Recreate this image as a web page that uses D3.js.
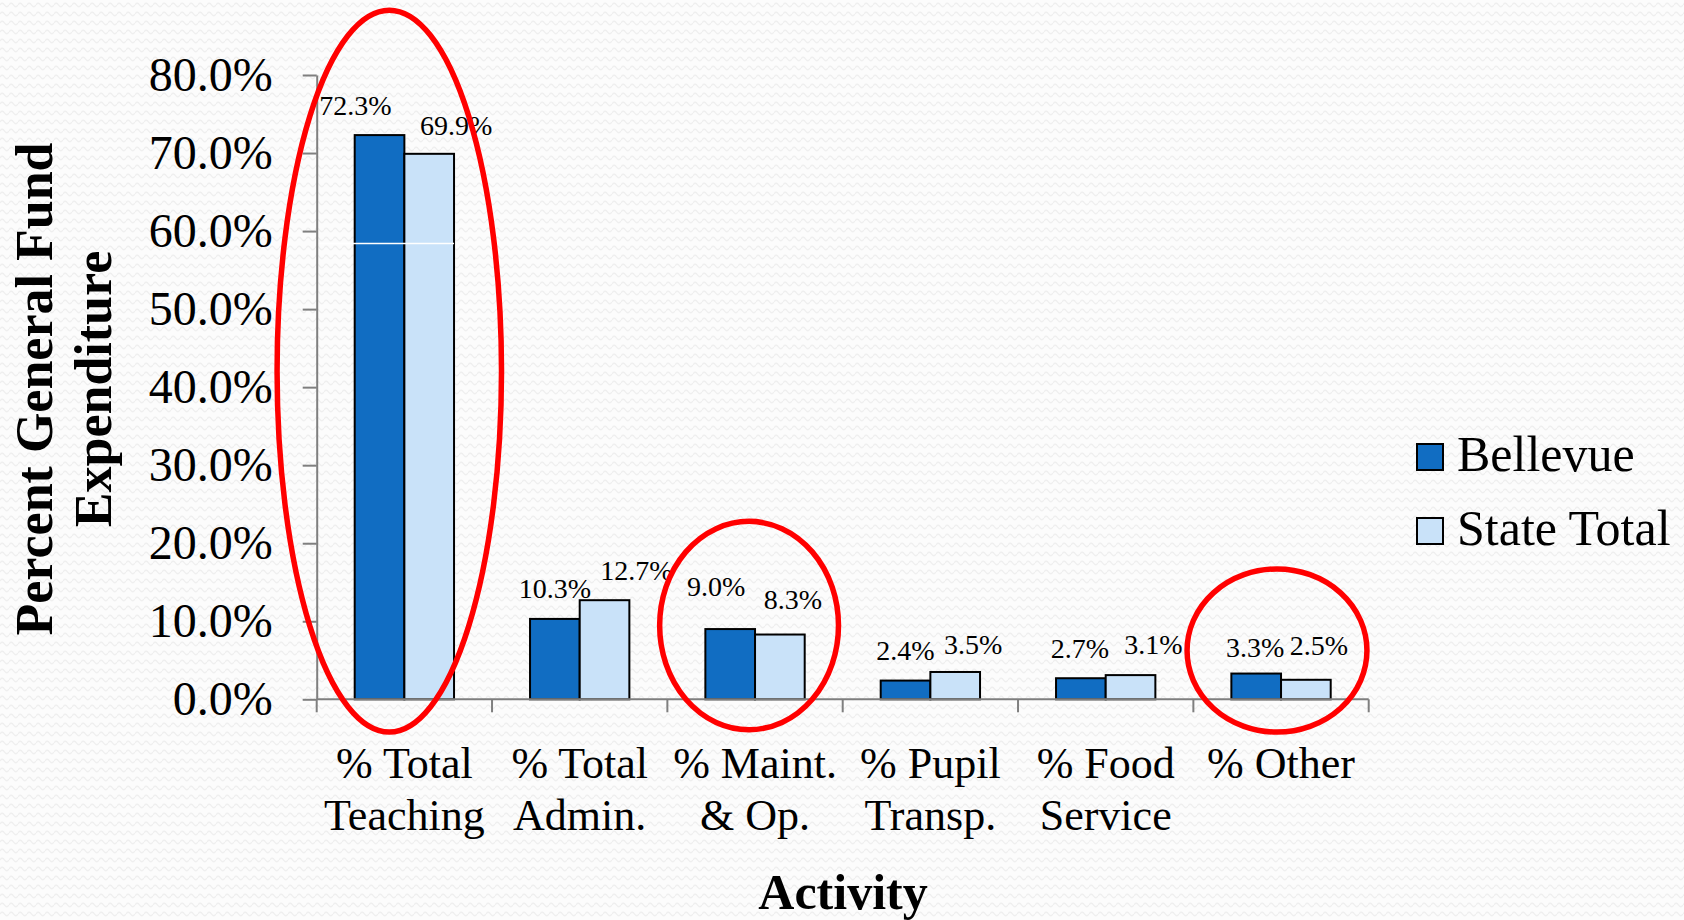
<!DOCTYPE html>
<html>
<head>
<meta charset="utf-8">
<title>Percent General Fund Expenditure by Activity</title>
<script src="https://cdn.jsdelivr.net/npm/d3@7"></script>
<style>
    html, body { margin: 0; padding: 0; background: #fff; }
    svg { display: block; font-family: 'Liberation Serif', 'Times New Roman', serif; }
</style>
</head>
<body>
<svg id="chart" width="1684" height="920"></svg>
<script>
// chart data
const categories = [
    ['% Total', 'Teaching'],
    ['% Total', 'Admin.'],
    ['% Maint.', '& Op.'],
    ['% Pupil', 'Transp.'],
    ['% Food', 'Service'],
    ['% Other'],
];
const seriesNames = ['Bellevue', 'State Total'];
const bellevue = [72.3, 10.3, 9.0, 2.4, 2.7, 3.3];
const stateTotal = [69.9, 12.7, 8.3, 3.5, 3.1, 2.5];
const yTicks = [0, 10, 20, 30, 40, 50, 60, 70, 80];

// categories circled in red on the slide (index, top/bottom in % units, width as share of band, shift)
const circled = [
    { i: 0, top: 88.3, bottom: -4.2, rx: 0.64, shift: -0.086 },
    { i: 2, top: 22.8, bottom: -3.9, rx: 0.51, shift: -0.034 },
    { i: 5, top: 16.7, bottom: -4.2, rx: 0.513, shift: -0.023 },
];

// hand-placed label nudges (px) as on the original slide
const labelNudge = {
    'Bellevue': { dx: [-24, 0, -14, 0, -1, -1], gap: [20, 21, 33, 21, 20, 17] },
    'State Total': { dx: [27, 32, 13, 18, 23, 13], gap: [19, 20, 26, 18, 21, 25] },
};

const colors = { 'Bellevue': '#116dc2', 'State Total': '#c9e2f9' };

const margin = { top: 75, left: 316.7, right: 315.3, bottom: 220.7 };
const width = 1684;
const height = 920;

const svg = d3.select('#chart');

// faint wavy texture of the slide background
const defs = svg.append('defs');
const pat = defs.append('pattern')
    .attr('id', 'bg')
    .attr('width', 9)
    .attr('height', 9)
    .attr('patternUnits', 'userSpaceOnUse');
pat.append('rect').attr('width', 9).attr('height', 9).attr('fill', '#fcfcfc');
pat.append('path')
    .attr('d', 'M0,5 Q2.25,1.5 4.5,5 T9,5')
    .attr('fill', 'none')
    .attr('stroke', '#efefef')
    .attr('stroke-width', 1.3);
svg.append('rect').attr('width', width).attr('height', height).attr('fill', 'url(#bg)');

const x = d3.scaleBand()
    .domain(d3.range(categories.length))
    .range([margin.left, width - margin.right]);

const xInner = d3.scaleBand()
    .domain(seriesNames)
    .range([38, x.bandwidth() - 38]);

const y = d3.scaleLinear()
    .domain([0, 80])
    .range([height - margin.bottom, margin.top]);

const rows = categories.map((c, i) => ({
    i,
    values: [
        { key: 'Bellevue', value: bellevue[i] },
        { key: 'State Total', value: stateTotal[i] },
    ],
}));

// bars
const groups = svg.append('g')
    .selectAll('g')
    .data(rows)
    .join('g')
    .attr('transform', d => `translate(${x(d.i)},0)`);

groups.selectAll('rect')
    .data(d => d.values)
    .join('rect')
    .attr('x', d => xInner(d.key))
    .attr('y', d => y(d.value))
    .attr('width', xInner.bandwidth())
    .attr('height', d => y(0) - y(d.value))
    .attr('fill', d => colors[d.key])
    .attr('stroke', '#000')
    .attr('stroke-width', 2);

// thin white seam running across the first pair of bars in the source image
svg.append('line')
    .attr('x1', x(0) - 1)
    .attr('x2', x(0) + xInner('State Total') + xInner.bandwidth())
    .attr('y1', y(58.4))
    .attr('y2', y(58.4))
    .attr('stroke', '#fff')
    .attr('stroke-width', 1.5);

// data labels
groups.selectAll('text')
    .data(d => d.values.map(v => ({ ...v, i: d.i })))
    .join('text')
    .attr('x', d => xInner(d.key) + xInner.bandwidth() / 2 + labelNudge[d.key].dx[d.i])
    .attr('y', d => y(d.value) - labelNudge[d.key].gap[d.i])
    .attr('text-anchor', 'middle')
    .attr('font-size', 28)
    .attr('fill', '#000')
    .text(d => d.value.toFixed(1) + '%');

// y axis
const yAxis = svg.append('g')
    .attr('transform', `translate(${margin.left},0)`)
    .call(d3.axisLeft(y)
        .tickValues(yTicks)
        .tickFormat(d => d.toFixed(1) + '%')
        .tickSize(14)
        .tickSizeOuter(0)
        .tickPadding(30));
yAxis.select('.domain').attr('stroke', '#7f7f7f').attr('stroke-width', 2);
yAxis.selectAll('.tick line').attr('stroke', '#7f7f7f').attr('stroke-width', 2);
yAxis.selectAll('.tick text')
    .attr('font-size', 48)
    .attr('font-family', 'Liberation Serif, serif')
    .attr('fill', '#000');

// x axis: ticks at band boundaries
const xAxis = svg.append('g');
xAxis.append('line')
    .attr('x1', x.range()[0])
    .attr('x2', x.range()[1])
    .attr('y1', y(0))
    .attr('y2', y(0))
    .attr('stroke', '#7f7f7f')
    .attr('stroke-width', 2);
xAxis.selectAll('.btick')
    .data(d3.range(categories.length + 1))
    .join('line')
    .attr('class', 'btick')
    .attr('x1', i => x.range()[0] + i * x.bandwidth())
    .attr('x2', i => x.range()[0] + i * x.bandwidth())
    .attr('y1', y(0))
    .attr('y2', y(0) + 13)
    .attr('stroke', '#7f7f7f')
    .attr('stroke-width', 2);

const catLabels = xAxis.selectAll('.cat')
    .data(rows)
    .join('text')
    .attr('class', 'cat')
    .attr('text-anchor', 'middle')
    .attr('font-size', 44)
    .attr('fill', '#000');
catLabels.selectAll('tspan')
    .data(d => categories[d.i].map(t => ({ t, i: d.i })))
    .join('tspan')
    .attr('x', d => x(d.i) + x.bandwidth() / 2)
    .attr('y', (d, k) => y(0) + 79 + k * 52)
    .text(d => d.t);

// axis titles
svg.append('text')
    .attr('transform', `translate(52,389) rotate(-90)`)
    .attr('text-anchor', 'middle')
    .attr('font-size', 52)
    .attr('font-weight', 'bold')
    .text('Percent General Fund');
svg.append('text')
    .attr('transform', `translate(111,389) rotate(-90)`)
    .attr('text-anchor', 'middle')
    .attr('font-size', 52)
    .attr('font-weight', 'bold')
    .text('Expenditure');
svg.append('text')
    .attr('x', 843)
    .attr('y', 909)
    .attr('text-anchor', 'middle')
    .attr('font-size', 50)
    .attr('font-weight', 'bold')
    .text('Activity');

// legend
const legend = svg.append('g')
    .attr('transform', 'translate(1417,444)')
    .selectAll('g')
    .data(seriesNames)
    .join('g')
    .attr('transform', (d, i) => `translate(0,${i * 74})`);
legend.append('rect')
    .attr('width', 26)
    .attr('height', 26)
    .attr('fill', d => colors[d])
    .attr('stroke', '#000')
    .attr('stroke-width', 2);
legend.append('text')
    .attr('x', 40)
    .attr('y', 27)
    .attr('font-size', 50)
    .text(d => d);

// red annotation ellipses
svg.append('g')
    .selectAll('ellipse')
    .data(circled)
    .join('ellipse')
    .attr('cx', d => x(d.i) + x.bandwidth() * (0.5 + d.shift))
    .attr('cy', d => (y(d.top) + y(d.bottom)) / 2)
    .attr('rx', d => x.bandwidth() * d.rx)
    .attr('ry', d => (y(d.bottom) - y(d.top)) / 2)
    .attr('fill', 'none')
    .attr('stroke', '#ff0000')
    .attr('stroke-width', 5.5);
</script>
</body>
</html>
